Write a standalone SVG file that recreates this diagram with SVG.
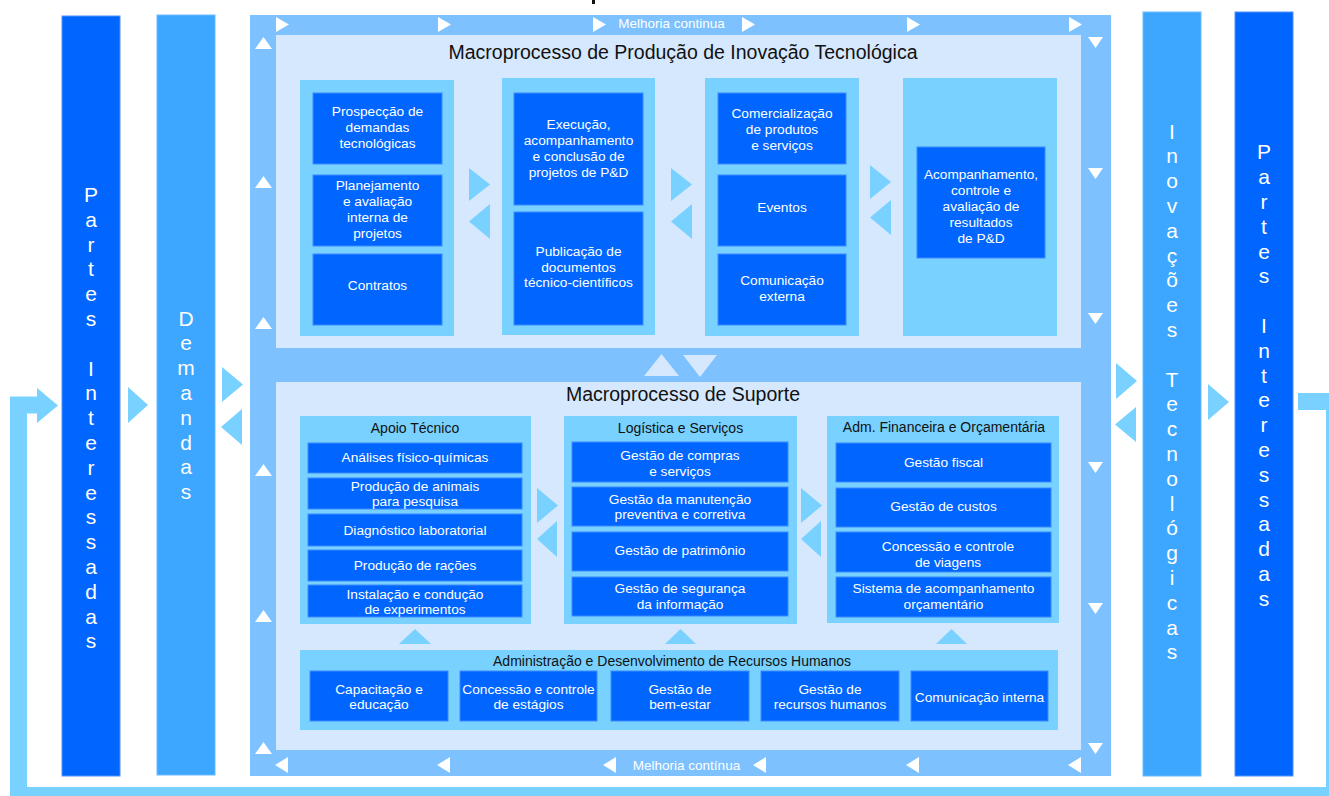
<svg xmlns="http://www.w3.org/2000/svg" width="1329" height="796" viewBox="0 0 1329 796">
<style>
.dark{fill:#0066FF;stroke:#4d94ff;stroke-width:1}
.mid{fill:#3DA6FF;stroke:#6cbcff;stroke-width:1}
.frame{fill:#7DC1FF}
.panel{fill:#D6E8FD}
.grp{fill:#78D1FF}
.box{fill:#0066FF;stroke:#3d8bff;stroke-width:1}
.arw{fill:#78D1FF}
.wa{fill:#FFFFFF}
.t{font-family:"Liberation Sans",Arial,sans-serif;font-size:13.7px;fill:#FFFFFF;text-anchor:middle;dominant-baseline:central}
.gt{font-family:"Liberation Sans",Arial,sans-serif;font-size:14px;fill:#111111;text-anchor:middle;dominant-baseline:central}
.ht{font-family:"Liberation Sans",Arial,sans-serif;font-size:19.5px;fill:#111111;text-anchor:middle}
.mc{font-family:"Liberation Sans",Arial,sans-serif;font-size:13.5px;fill:#FFFFFF;text-anchor:middle;dominant-baseline:central}
.vt{font-family:"Liberation Sans",Arial,sans-serif;font-size:21px;fill:#FFFFFF;text-anchor:middle}
.loop{fill:none;stroke:#78D1FF;stroke-width:17}
</style>

<rect x="592" y="0" width="3" height="4" fill="#111111"/>

<g id="connectors">
  <path class="loop" d="M1298 401.5 H1334.5 V795.5 H18.5 V405 H40"/>
  <polygon class="arw" points="37,388 58,405.5 37,423"/>
  <polygon class="arw" points="128,387 148,405 128,423"/>
  <polygon class="arw" points="222,367 243,384.5 222,402"/>
  <polygon class="arw" points="242,409 221,427 242,445"/>
  <polygon class="arw" points="1116,363 1137,381 1116,399"/>
  <polygon class="arw" points="1136,407 1115,424.5 1136,442"/>
  <polygon class="arw" points="1208,384 1229,402 1208,420"/>
</g>

<g id="partes-esq">
  <rect class="dark" x="62" y="16" width="58" height="760"/>
  <text class="vt"><tspan x="91" y="202">P</tspan><tspan x="91" y="226.8">a</tspan><tspan x="91" y="251.6">r</tspan><tspan x="91" y="276.4">t</tspan><tspan x="91" y="301.2">e</tspan><tspan x="91" y="326">s</tspan><tspan x="91" y="375.6">I</tspan><tspan x="91" y="400.4">n</tspan><tspan x="91" y="425.2">t</tspan><tspan x="91" y="450">e</tspan><tspan x="91" y="474.8">r</tspan><tspan x="91" y="499.6">e</tspan><tspan x="91" y="524.4">s</tspan><tspan x="91" y="549.2">s</tspan><tspan x="91" y="574">a</tspan><tspan x="91" y="598.8">d</tspan><tspan x="91" y="623.6">a</tspan><tspan x="91" y="648.4">s</tspan></text>
</g>

<g id="demandas">
  <rect class="mid" x="157" y="15" width="58" height="760"/>
  <text class="vt"><tspan x="186" y="325.6">D</tspan><tspan x="186" y="350.4">e</tspan><tspan x="186" y="375.2">m</tspan><tspan x="186" y="400">a</tspan><tspan x="186" y="424.8">n</tspan><tspan x="186" y="449.6">d</tspan><tspan x="186" y="474.4">a</tspan><tspan x="186" y="499.2">s</tspan></text>
</g>

<g id="inovacoes">
  <rect class="mid" x="1143" y="12" width="58" height="764"/>
  <text class="vt"><tspan x="1172" y="138.5">I</tspan><tspan x="1172" y="163.3">n</tspan><tspan x="1172" y="188.1">o</tspan><tspan x="1172" y="212.9">v</tspan><tspan x="1172" y="237.7">a</tspan><tspan x="1172" y="262.5">ç</tspan><tspan x="1172" y="287.3">õ</tspan><tspan x="1172" y="312.1">e</tspan><tspan x="1172" y="336.9">s</tspan><tspan x="1172" y="386.5">T</tspan><tspan x="1172" y="411.3">e</tspan><tspan x="1172" y="436.1">c</tspan><tspan x="1172" y="460.9">n</tspan><tspan x="1172" y="485.7">o</tspan><tspan x="1172" y="510.5">l</tspan><tspan x="1172" y="535.3">ó</tspan><tspan x="1172" y="560.1">g</tspan><tspan x="1172" y="584.9">i</tspan><tspan x="1172" y="609.7">c</tspan><tspan x="1172" y="634.5">a</tspan><tspan x="1172" y="659.3">s</tspan></text>
</g>

<g id="partes-dir">
  <rect class="dark" x="1235" y="12" width="58" height="764"/>
  <text class="vt"><tspan x="1264" y="159.4">P</tspan><tspan x="1264" y="184.2">a</tspan><tspan x="1264" y="209">r</tspan><tspan x="1264" y="233.8">t</tspan><tspan x="1264" y="258.6">e</tspan><tspan x="1264" y="283.4">s</tspan><tspan x="1264" y="333">I</tspan><tspan x="1264" y="357.8">n</tspan><tspan x="1264" y="382.6">t</tspan><tspan x="1264" y="407.4">e</tspan><tspan x="1264" y="432.2">r</tspan><tspan x="1264" y="457">e</tspan><tspan x="1264" y="481.8">s</tspan><tspan x="1264" y="506.6">s</tspan><tspan x="1264" y="531.4">a</tspan><tspan x="1264" y="556.2">d</tspan><tspan x="1264" y="581">a</tspan><tspan x="1264" y="605.8">s</tspan></text>
</g>

<g id="melhoria-continua">
  <rect class="frame" x="250" y="15" width="861" height="761"/>
  <g class="wa">
    <polygon points="276,17 289,24.5 276,32"/>
    <polygon points="438,17 451,24.5 438,32"/>
    <polygon points="593,17 606,24.5 593,32"/>
    <polygon points="742,17 755,24.5 742,32"/>
    <polygon points="907,17 920,24.5 907,32"/>
    <polygon points="1069,17 1082,24.5 1069,32"/>
    <polygon points="288,757 275,765 288,773"/>
    <polygon points="450,757 437,765 450,773"/>
    <polygon points="616,757 603,765 616,773"/>
    <polygon points="766,757 753,765 766,773"/>
    <polygon points="919,757 906,765 919,773"/>
    <polygon points="1081,757 1068,765 1081,773"/>
    <polygon points="255,49 263.5,37 272,49"/>
    <polygon points="255,188 263.5,176 272,188"/>
    <polygon points="255,329 263.5,317 272,329"/>
    <polygon points="255,476 263.5,464 272,476"/>
    <polygon points="255,622 263.5,610 272,622"/>
    <polygon points="255,754 263.5,742 272,754"/>
    <polygon points="1088,37 1103,37 1095.5,48"/>
    <polygon points="1088,168 1103,168 1095.5,179"/>
    <polygon points="1088,313 1103,313 1095.5,324"/>
    <polygon points="1088,462 1103,462 1095.5,473"/>
    <polygon points="1088,603 1103,603 1095.5,614"/>
    <polygon points="1088,743 1103,743 1095.5,754"/>
  </g>
  <text class="mc" x="671.5" y="23">Melhoria continua</text>
  <text class="mc" x="686.5" y="765">Melhoria contínua</text>
</g>

<g id="macro-producao">
  <rect class="panel" x="276" y="35" width="805" height="313"/>
  <text class="ht" x="683" y="59">Macroprocesso de Produção de Inovação Tecnológica</text>

  <g id="prod-col1">
    <rect class="grp" x="300" y="80" width="154" height="256"/>
    <g id="prospeccao"><rect class="box" x="313" y="93" width="129" height="71"/>
      <text class="t"><tspan x="377.5" y="110.7">Prospecção de</tspan><tspan x="377.5" y="126.7">demandas</tspan><tspan x="377.5" y="142.7">tecnológicas</tspan></text></g>
    <g id="planejamento"><rect class="box" x="313" y="175" width="129" height="71"/>
      <text class="t"><tspan x="377.5" y="185">Planejamento</tspan><tspan x="377.5" y="201">e avaliação</tspan><tspan x="377.5" y="217">interna de</tspan><tspan x="377.5" y="233">projetos</tspan></text></g>
    <g id="contratos"><rect class="box" x="313" y="254" width="129" height="71"/>
      <text class="t" x="377.5" y="285">Contratos</text></g>
  </g>

  <g id="prod-col2">
    <rect class="grp" x="502" y="78" width="153" height="257"/>
    <g id="execucao"><rect class="box" x="514" y="93" width="129" height="112"/>
      <text class="t"><tspan x="578.5" y="124.3">Execução,</tspan><tspan x="578.5" y="140.3">acompanhamento</tspan><tspan x="578.5" y="156.3">e conclusão de</tspan><tspan x="578.5" y="172.3">projetos de P&amp;D</tspan></text></g>
    <g id="publicacao"><rect class="box" x="514" y="212" width="129" height="113"/>
      <text class="t"><tspan x="578.5" y="251">Publicação de</tspan><tspan x="578.5" y="266.5">documentos</tspan><tspan x="578.5" y="282">técnico-científicos</tspan></text></g>
  </g>

  <g id="prod-col3">
    <rect class="grp" x="705" y="78" width="154" height="258"/>
    <g id="comercializacao"><rect class="box" x="718" y="93" width="128" height="71"/>
      <text class="t"><tspan x="782" y="112.5">Comercialização</tspan><tspan x="782" y="129">de produtos</tspan><tspan x="782" y="145">e serviços</tspan></text></g>
    <g id="eventos"><rect class="box" x="718" y="175" width="128" height="71"/>
      <text class="t" x="782" y="207.7">Eventos</text></g>
    <g id="comunicacao-externa"><rect class="box" x="718" y="254" width="128" height="71"/>
      <text class="t"><tspan x="782" y="279.5">Comunicação</tspan><tspan x="782" y="295.7">externa</tspan></text></g>
  </g>

  <g id="prod-col4">
    <rect class="grp" x="903" y="78" width="154" height="258"/>
    <g id="acompanhamento"><rect class="box" x="917" y="147" width="128" height="111"/>
      <text class="t"><tspan x="981" y="174" textLength="114" lengthAdjust="spacingAndGlyphs">Acompanhamento,</tspan><tspan x="981" y="189.5">controle e</tspan><tspan x="981" y="205.7">avaliação de</tspan><tspan x="981" y="221.7">resultados</tspan><tspan x="981" y="237.7">de P&amp;D</tspan></text></g>
  </g>

  <g id="prod-arrows">
    <polygon class="arw" points="469,168 490,184.5 469,201"/>
    <polygon class="arw" points="490,204 469,221.5 490,239"/>
    <polygon class="arw" points="671,168 692,184.5 671,201"/>
    <polygon class="arw" points="692,204 671,221.5 692,239"/>
    <polygon class="arw" points="870,165 891,182 870,199"/>
    <polygon class="arw" points="891,200 870,217.5 891,235"/>
  </g>
</g>

<g id="macro-links">
  <polygon class="panel" points="644,376 661.5,354 679,376"/>
  <polygon class="panel" points="683,355 717,355 700,377"/>
</g>

<g id="macro-suporte">
  <rect class="panel" x="276" y="382" width="805" height="368"/>
  <text class="ht" x="683" y="401">Macroprocesso de Suporte</text>

  <g id="apoio-tecnico">
    <rect class="grp" x="300" y="416" width="231" height="208"/>
    <text class="gt" x="415" y="428">Apoio Técnico</text>
    <g id="analises"><rect class="box" x="308" y="443" width="214" height="30"/>
      <text class="t" x="415" y="457.5">Análises físico-químicas</text></g>
    <g id="animais"><rect class="box" x="308" y="478" width="214" height="31"/>
      <text class="t"><tspan x="415" y="486">Produção de animais</tspan><tspan x="415" y="501">para pesquisa</tspan></text></g>
    <g id="diagnostico"><rect class="box" x="308" y="514" width="214" height="32"/>
      <text class="t" x="415" y="530">Diagnóstico laboratorial</text></g>
    <g id="racoes"><rect class="box" x="308" y="550" width="214" height="31"/>
      <text class="t" x="415" y="565.7">Produção de rações</text></g>
    <g id="experimentos"><rect class="box" x="308" y="585" width="214" height="32"/>
      <text class="t"><tspan x="415" y="593.5">Instalação e condução</tspan><tspan x="415" y="608.7">de experimentos</tspan></text></g>
  </g>

  <g id="logistica">
    <rect class="grp" x="564" y="416" width="233" height="208"/>
    <text class="gt" x="680.5" y="427.5">Logística e Serviços</text>
    <g id="compras"><rect class="box" x="572" y="442" width="216" height="40"/>
      <text class="t"><tspan x="680" y="454.5">Gestão de compras</tspan><tspan x="680" y="470.7">e serviços</tspan></text></g>
    <g id="manutencao"><rect class="box" x="572" y="487" width="216" height="39"/>
      <text class="t"><tspan x="680" y="498.7">Gestão da manutenção</tspan><tspan x="680" y="514.3">preventiva e corretiva</tspan></text></g>
    <g id="patrimonio"><rect class="box" x="572" y="532" width="216" height="39"/>
      <text class="t" x="680" y="550.7">Gestão de patrimônio</text></g>
    <g id="seguranca"><rect class="box" x="572" y="577" width="216" height="39"/>
      <text class="t"><tspan x="680" y="588.3">Gestão de segurança</tspan><tspan x="680" y="604">da informação</tspan></text></g>
  </g>

  <g id="adm-financeira">
    <rect class="grp" x="827" y="416" width="232" height="207"/>
    <text class="gt" x="944" y="426.7">Adm. Financeira e Orçamentária</text>
    <g id="fiscal"><rect class="box" x="836" y="443" width="215" height="39"/>
      <text class="t" x="943.5" y="462.3">Gestão fiscal</text></g>
    <g id="custos"><rect class="box" x="836" y="488" width="215" height="39"/>
      <text class="t" x="943.5" y="506.7">Gestão de custos</text></g>
    <g id="viagens"><rect class="box" x="836" y="532" width="215" height="40"/>
      <text class="t"><tspan x="948" y="545.7">Concessão e controle</tspan><tspan x="948" y="561.7">de viagens</tspan></text></g>
    <g id="orcamentario"><rect class="box" x="836" y="577" width="215" height="40"/>
      <text class="t"><tspan x="943.5" y="588.3">Sistema de acompanhamento</tspan><tspan x="943.5" y="604.3">orçamentário</tspan></text></g>
  </g>

  <g id="suporte-arrows">
    <polygon class="arw" points="537,488 558,505.5 537,523"/>
    <polygon class="arw" points="557,521 537,539 557,557"/>
    <polygon class="arw" points="801,488 822,505.5 801,523"/>
    <polygon class="arw" points="821,521 801,539 821,557"/>
    <polygon class="arw" points="399,644 415,629 431,644"/>
    <polygon class="arw" points="665,644 680.5,629 696,644"/>
    <polygon class="arw" points="936,644 951.5,629 967,644"/>
  </g>

  <g id="recursos-humanos">
    <rect class="grp" x="300" y="650" width="758" height="80"/>
    <text class="gt" x="672" y="660.7">Administração e Desenvolvimento de Recursos Humanos</text>
    <g id="capacitacao"><rect class="box" x="310" y="671" width="138" height="50"/>
      <text class="t"><tspan x="379" y="689">Capacitação e</tspan><tspan x="379" y="704.3">educação</tspan></text></g>
    <g id="estagios"><rect class="box" x="460" y="671" width="137" height="50"/>
      <text class="t"><tspan x="528.5" y="689">Concessão e controle</tspan><tspan x="528.5" y="704.3">de estágios</tspan></text></g>
    <g id="bem-estar"><rect class="box" x="611" y="671" width="138" height="50"/>
      <text class="t"><tspan x="680" y="689">Gestão de</tspan><tspan x="680" y="704.3">bem-estar</tspan></text></g>
    <g id="rh"><rect class="box" x="761" y="671" width="138" height="50"/>
      <text class="t"><tspan x="830" y="689">Gestão de</tspan><tspan x="830" y="704.3">recursos humanos</tspan></text></g>
    <g id="comunicacao-interna"><rect class="box" x="911" y="671" width="137" height="50"/>
      <text class="t" x="979.5" y="697.3">Comunicação interna</text></g>
  </g>
</g>
</svg>
